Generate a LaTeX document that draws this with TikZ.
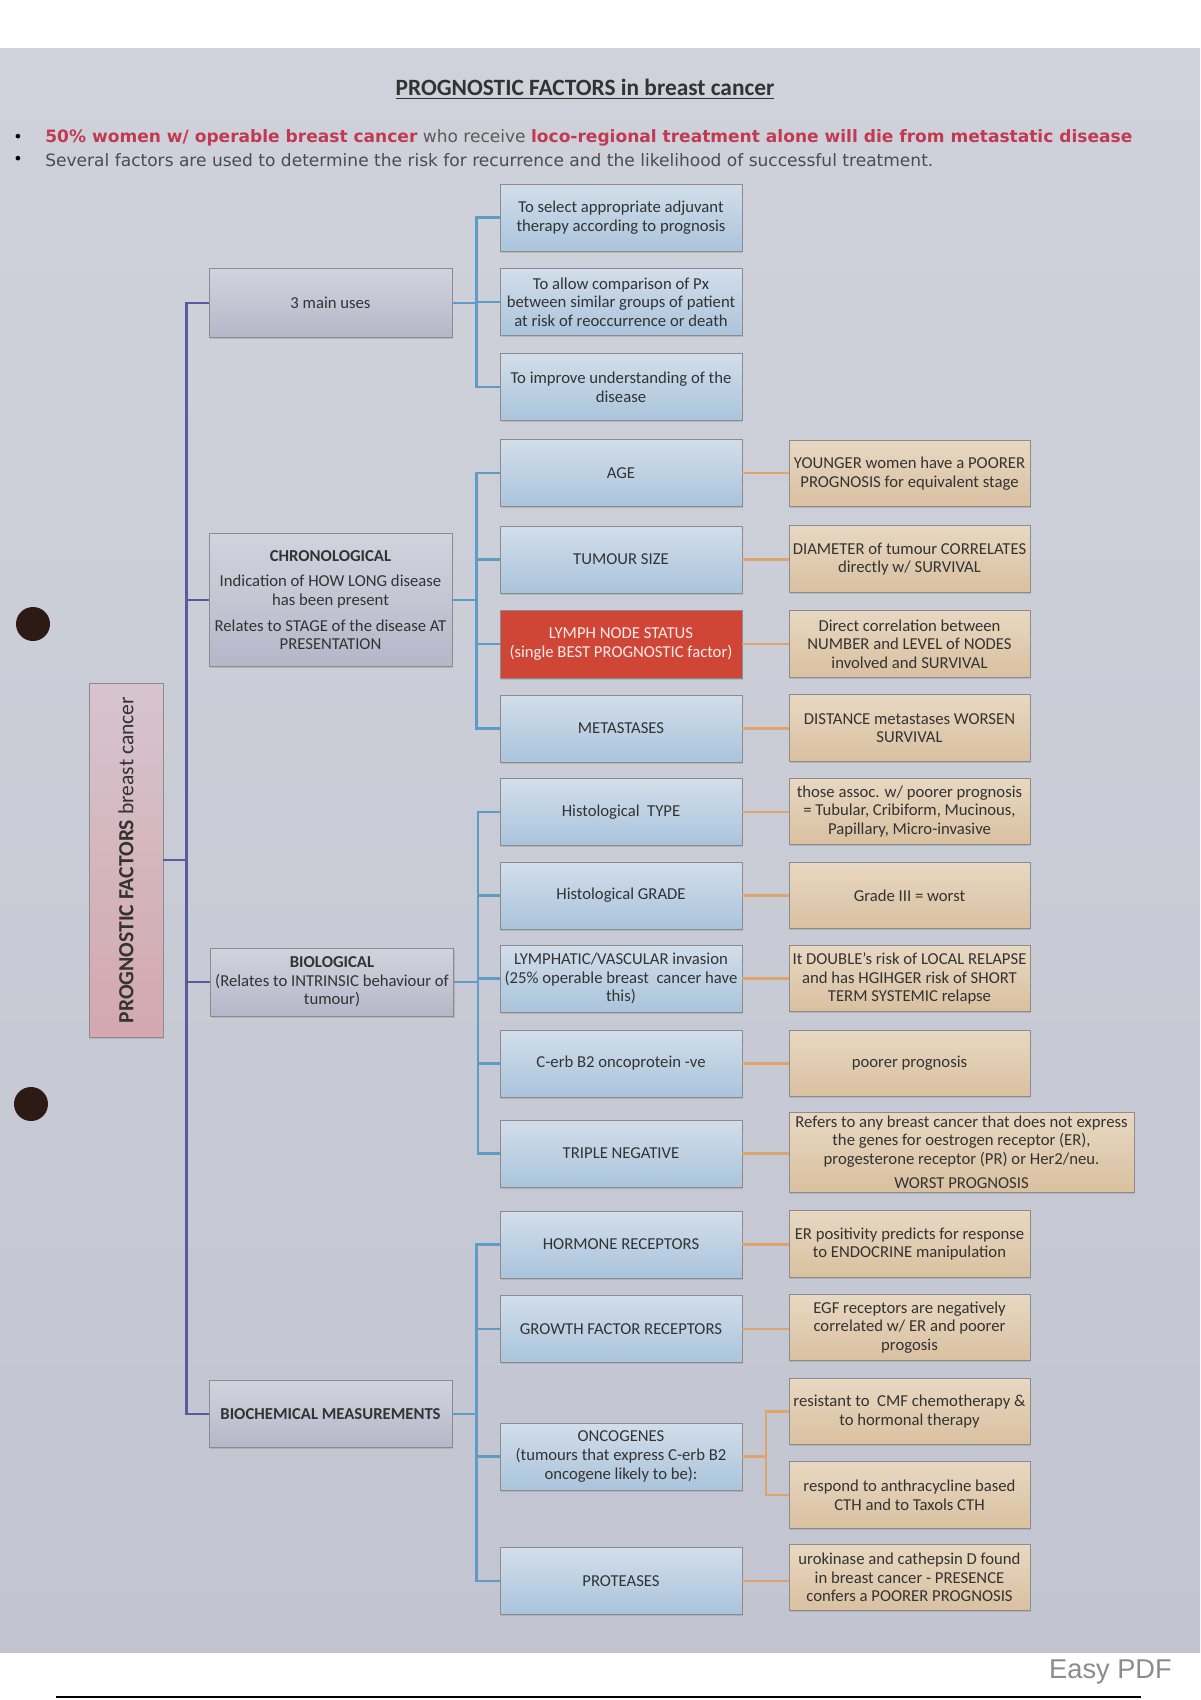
\documentclass[tikz,border=0pt]{standalone}
\usepackage{fontspec}
\setmainfont{Carlito}
\newfontfamily\bulletfont{DejaVu Sans}
\newfontfamily\markfont{Liberation Sans}
\usetikzlibrary{positioning, calc, shadows}

\definecolor{pageTop}{HTML}{D0D2DB}
\definecolor{pageBot}{HTML}{C2C4D0}
\definecolor{greyTop}{HTML}{D3D3DE}
\definecolor{greyBot}{HTML}{B6B6C9}
\definecolor{blueTop}{HTML}{D2DEEA}
\definecolor{blueBot}{HTML}{AAC4DC}
\definecolor{tanTop}{HTML}{E8D8C2}
\definecolor{tanBot}{HTML}{D9C0A0}
\definecolor{rootTop}{HTML}{D6C4CE}
\definecolor{rootBot}{HTML}{D3A8AE}
\definecolor{lymphRed}{HTML}{CF4636}
\definecolor{mainLine}{HTML}{585C9E}
\definecolor{blueLine}{HTML}{5E9BC6}
\definecolor{orangeLine}{HTML}{DDA56C}
\definecolor{alertRed}{HTML}{C23A52}
\definecolor{inkGrey}{HTML}{333333}
\definecolor{holeBrown}{HTML}{2E1A14}

\tikzset{
	>=latex,
	box/.style={draw=black!45, line width=0.5pt, align=center, inner xsep=1pt, inner ysep=1pt,
		text=inkGrey, font=\fontsize{9.5}{10.6}\selectfont,
		drop shadow={shadow xshift=0.6pt, shadow yshift=-0.9pt, opacity=0.3}},
	greybox/.style={box, top color=greyTop, bottom color=greyBot, minimum width=4.86cm},
	bluebox/.style={box, top color=blueTop, bottom color=blueBot, minimum width=4.84cm, minimum height=1.34cm},
	tanbox/.style={box, top color=tanTop, bottom color=tanBot, minimum width=4.82cm, minimum height=1.33cm},
	redbox/.style={box, fill=lymphRed, text=white!92!red, minimum width=4.84cm, minimum height=1.36cm},
	mainlink/.style={draw=mainLine, line width=1.5pt},
	bluelink/.style={draw=blueLine, line width=1.4pt},
	orangelink/.style={draw=orangeLine, line width=1.4pt}
}

\begin{document}
\begin{tikzpicture}[x=0.02cm, y=-0.02cm]
	% PAGE
	\useasboundingbox (0,0) rectangle (1200,1700);
	\fill[white] (0,0) rectangle (1200,1700);
	\shade[top color=pageTop, bottom color=pageBot] (0,49) rectangle (1200,1652);
	\draw[black, line width=1.2pt] (56,1697) -- (1141,1697);
	\node[anchor=east, text=black!45, font=\markfont\fontsize{15.5}{17}\selectfont] (easy) at (1178,1672) {Easy PDF};

	% punch holes
	\fill[holeBrown] (33,624) circle (17);
	\fill[holeBrown] (31,1104) circle (17);

	% Title and bullets
	\node[text=inkGrey, font=\bfseries\fontsize{13.3}{15}\selectfont] (title) at (585,89) {\underline{PROGNOSTIC FACTORS in breast cancer}};
	\node[anchor=west, inner sep=0pt, font=\bulletfont\fontsize{9.7}{11}\selectfont] (bull1) at (45,138)
	{\textcolor{alertRed}{\bfseries 50\% women w/ operable breast cancer} \textcolor{black!65}{who receive} \textcolor{alertRed}{\bfseries loco-regional treatment alone will die from metastatic disease}};
	\node[anchor=west, inner sep=0pt, text=black!70, font=\bulletfont\fontsize{9.7}{11}\selectfont] (bull2) at (45,160)
	{Several factors are used to determine the risk for recurrence and the likelihood of successful treatment.};
	\node[inner sep=0pt, font=\bulletfont\small] (dot1) at (18,138) {•};
	\node[inner sep=0pt, font=\bulletfont\small] (dot2) at (18,160) {•};

	% Root
	\node[box, top color=rootTop, bottom color=rootBot, minimum width=7.08cm, minimum height=1.48cm, rotate=90,
		font=\fontsize{12.3}{14}\selectfont] (root) at (126,860) {\textbf{PROGNOSTIC FACTORS} breast cancer};

	% Column 1
	\node[greybox, minimum height=1.38cm] (uses) at (330.5,303) {3 main uses};
	\node[greybox, minimum height=2.66cm] (chrono) at (330.5,600)
	{\textbf{CHRONOLOGICAL}\\[4pt] Indication of HOW LONG disease\\ has been present\\[4pt] Relates to STAGE of the disease AT\\ PRESENTATION};
	\node[greybox, minimum height=1.36cm] (bio) at (332,982) {\textbf{BIOLOGICAL}\\(Relates to INTRINSIC behaviour of\\tumour)};
	\node[greybox, minimum height=1.34cm] (biochem) at (330.5,1414) {\textbf{BIOCHEMICAL MEASUREMENTS}};

	% Column 2
	\node[bluebox] (u1) at (621,217.5) {To select appropriate adjuvant\\therapy according to prognosis};
	\node[bluebox] (u2) at (621,302) {To allow comparison of Px\\between similar groups of patient\\at risk of reoccurrence or death};
	\node[bluebox] (u3) at (621,387) {To improve understanding of the\\disease};
	\node[bluebox] (age) at (621,473) {AGE};
	\node[bluebox] (size) at (621,559.5) {TUMOUR SIZE};
	\node[redbox] (lymph) at (621,644) {LYMPH NODE STATUS\\(single BEST PROGNOSTIC factor)};
	\node[bluebox] (mets) at (621,728.5) {METASTASES};
	\node[bluebox] (type) at (621,812) {Histological~~TYPE};
	\node[bluebox] (grade) at (621,895.5) {Histological GRADE};
	\node[bluebox] (lvi) at (621,978.5) {LYMPHATIC/VASCULAR invasion\\(25\% operable breast~~cancer have\\this)};
	\node[bluebox] (cerb) at (621,1063.5) {C-erb B2 oncoprotein -ve};
	\node[bluebox] (triple) at (621,1153.5) {TRIPLE NEGATIVE};
	\node[bluebox] (horm) at (621,1244.5) {HORMONE RECEPTORS};
	\node[bluebox] (growth) at (621,1329) {GROWTH FACTOR RECEPTORS};
	\node[bluebox] (onco) at (621,1456.5) {ONCOGENES\\(tumours that express C-erb B2\\oncogene likely to be):};
	\node[bluebox] (prot) at (621,1581) {PROTEASES};

	% Column 3
	\node[tanbox] (dAge) at (909.5,473.5) {YOUNGER women have a POORER\\PROGNOSIS for equivalent stage};
	\node[tanbox] (dSize) at (909.5,559) {DIAMETER of tumour CORRELATES\\directly w/ SURVIVAL};
	\node[tanbox] (dLymph) at (909.5,644) {Direct correlation between\\NUMBER and LEVEL of NODES\\involved and SURVIVAL};
	\node[tanbox] (dMets) at (909.5,728) {DISTANCE metastases WORSEN\\SURVIVAL};
	\node[tanbox] (dType) at (909.5,811.5) {those assoc. w/ poorer prognosis\\= Tubular, Cribiform, Mucinous,\\Papillary, Micro-invasive};
	\node[tanbox] (dGrade) at (909.5,895.5) {Grade III = worst};
	\node[tanbox] (dLvi) at (909.5,978.5) {It DOUBLE's risk of LOCAL RELAPSE\\and has HGIHGER risk of SHORT\\TERM SYSTEMIC relapse};
	\node[tanbox] (dCerb) at (909.5,1063.5) {poorer prognosis};
	\node[tanbox, minimum width=6.9cm, minimum height=1.6cm] (dTriple) at (961.5,1152)
	{Refers to any breast cancer that does not express\\the genes for oestrogen receptor (ER),\\progesterone receptor (PR) or Her2/neu.\\[3pt]WORST PROGNOSIS};
	\node[tanbox] (dHorm) at (909.5,1244) {ER positivity predicts for response\\to ENDOCRINE manipulation};
	\node[tanbox] (dGrowth) at (909.5,1327.5) {EGF receptors are negatively\\correlated w/ ER and poorer\\progosis};
	\node[tanbox] (dOnc1) at (909.5,1411.5) {resistant to~~CMF chemotherapy \&\\to hormonal therapy};
	\node[tanbox] (dOnc2) at (909.5,1495) {respond to anthracycline based\\CTH and to Taxols CTH};
	\node[tanbox] (dProt) at (909.5,1577.5) {urokinase and cathepsin D found\\in breast cancer - PRESENCE\\confers a POORER PROGNOSIS};

	% Connectors
	\foreach \c in {uses,chrono,bio,biochem}
	\draw[mainlink] (root.south) -- ++(23,0) |- (\c.west);
	\foreach \p/\c in {uses/u1, uses/u2, uses/u3,
		chrono/age, chrono/size, chrono/lymph, chrono/mets,
		bio/type, bio/grade, bio/lvi, bio/cerb, bio/triple,
		biochem/horm, biochem/growth, biochem/onco, biochem/prot}
	\draw[bluelink] (\p.east) -- ++(24,0) |- (\c.west);
	\foreach \p/\c in {age/dAge, size/dSize, lymph/dLymph, mets/dMets,
		type/dType, grade/dGrade, lvi/dLvi, cerb/dCerb, triple/dTriple,
		horm/dHorm, growth/dGrowth, prot/dProt}
	\draw[orangelink] (\p.east) -- (\p.east -| \c.west);
	\foreach \c in {dOnc1,dOnc2}
	\draw[orangelink] (onco.east) -- ++(23.5,0) |- (\c.west);
\end{tikzpicture}
\end{document}
